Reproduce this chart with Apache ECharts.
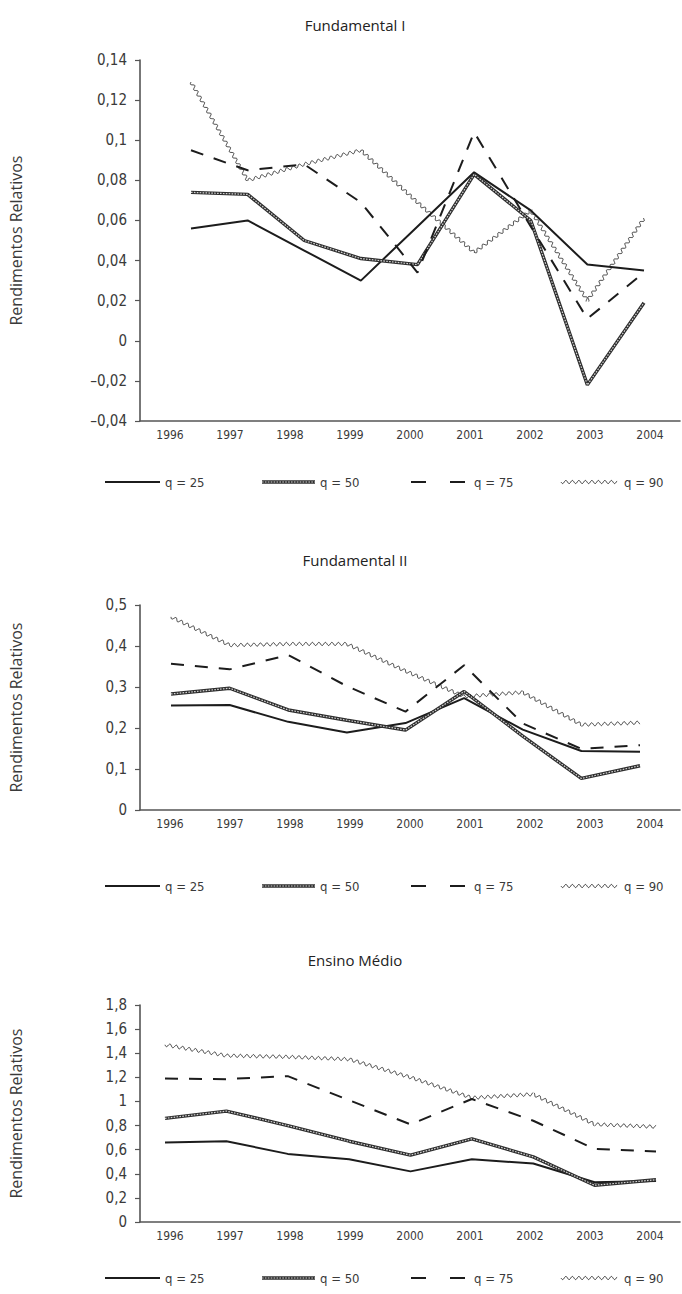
<!DOCTYPE html>
<html>
<head>
<meta charset="utf-8">
<script src="https://cdn.jsdelivr.net/npm/echarts@6/dist/echarts.min.js"></script>
<style>
  html, body { margin: 0; padding: 0; background: #ffffff; }
  #chart { width: 682px; height: 1294px; }
</style>
</head>
<body>
<div id="chart"></div>
<script>
// ---- data ----
const yearLabels = ['1996', '1997', '1998', '1999', '2000', '2001', '2002', '2003', '2004'];
const years = [1996, 1997, 1998, 1999, 2000, 2001, 2002, 2003, 2004];
const quantileNames = ['q = 25', 'q = 50', 'q = 75', 'q = 90'];
const panelTitles = ['Fundamental I', 'Fundamental II', 'Ensino Médio'];
const yAxisTitle = 'Rendimentos Relativos';

// Fundamental I
const fund1Q25 = [0.056, 0.060, 0.045, 0.030, 0.057, 0.084, 0.065, 0.038, 0.035];
const fund1Q50 = [0.074, 0.073, 0.050, 0.041, 0.038, 0.083, 0.060, -0.022, 0.019];
const fund1Q75 = [0.095, 0.085, 0.088, 0.069, 0.034, 0.104, 0.057, 0.011, 0.034];
const fund1Q90 = [0.129, 0.080, 0.088, 0.095, 0.069, 0.044, 0.065, 0.020, 0.061];

// Fundamental II
const fund2Q25 = [0.255, 0.256, 0.215, 0.189, 0.212, 0.273, 0.196, 0.144, 0.142];
const fund2Q50 = [0.283, 0.297, 0.244, 0.219, 0.195, 0.289, 0.180, 0.077, 0.108];
const fund2Q75 = [0.357, 0.343, 0.378, 0.302, 0.240, 0.353, 0.211, 0.149, 0.158];
const fund2Q90 = [0.471, 0.402, 0.405, 0.405, 0.339, 0.277, 0.287, 0.208, 0.213];

// Ensino Médio
const medioQ25 = [0.66, 0.67, 0.565, 0.52, 0.42, 0.52, 0.485, 0.33, 0.34];
const medioQ50 = [0.86, 0.92, 0.80, 0.67, 0.555, 0.69, 0.54, 0.305, 0.35];
const medioQ75 = [1.19, 1.185, 1.21, 1.01, 0.81, 1.02, 0.84, 0.606, 0.585];
const medioQ90 = [1.47, 1.38, 1.37, 1.35, 1.20, 1.03, 1.06, 0.81, 0.79];

const panelSeries = [
  [fund1Q25, fund1Q50, fund1Q75, fund1Q90],
  [fund2Q25, fund2Q50, fund2Q75, fund2Q90],
  [medioQ25, medioQ50, medioQ75, medioQ90]
];

// ---- layout ----
const W = 682;
const GRID_LEFT = 140;
const GRID_RIGHT = 2;
const panels = [
  { top: 60,   height: 361, min: -0.04, max: 0.14, interval: 0.02, firstX: 191, lastX: 644, titleTop: 17,  legendY: 482 },
  { top: 605,  height: 205, min: 0,     max: 0.5,  interval: 0.1,  firstX: 171, lastX: 640, titleTop: 552, legendY: 886 },
  { top: 1005, height: 217, min: 0,     max: 1.8,  interval: 0.2,  firstX: 165, lastX: 656, titleTop: 952, legendY: 1278 }
];

const INK = '#1c1c1c';
const AXIS = '#555555';
const TEXT = '#3a3a3a';
const CONDENSED = '"DejaVu Sans Condensed", "Liberation Sans Narrow", sans-serif';
const SANS = '"Open Sans", "Noto Sans", sans-serif';

const WAVE_AMP = 1.6;
const WAVE_LEN = 6.5;
const WAVE_STYLE = { stroke: '#2a2a2a', lineWidth: 0.9, fill: 'none' };
const BEAD_BASE = { color: '#2e2e2e', width: 3.4 };
const BEAD_HOLES = { color: '#d4d4d4', width: 1.2, dash: [1.6, 1.3] };

const fmt = v => String(+v.toFixed(4)).replace('.', ',').replace('-', '\u2013');
const pairs = vals => years.map((y, i) => [y, vals[i]]);

// wavy segment between two pixel points, phase continues from `offset`
function wavePoints(a, b, offset) {
  const dx = b[0] - a[0], dy = b[1] - a[1];
  const len = Math.hypot(dx, dy) || 1;
  const nx = -dy / len, ny = dx / len;
  const n = Math.max(2, Math.ceil(len / 0.5));
  const pts = [];
  for (let j = 0; j <= n; j++) {
    const t = j / n;
    const w = WAVE_AMP * Math.sin(2 * Math.PI * (offset + len * t) / WAVE_LEN);
    pts.push([a[0] + dx * t + nx * w, a[1] + dy * t + ny * w]);
  }
  return pts;
}

function renderWavy(params, api) {
  const i = params.dataIndex;
  if (i === 0) return null;
  let offset = 0;
  let prev = api.coord([api.value(0, 0), api.value(1, 0)]);
  for (let k = 1; k < i; k++) {
    const p = api.coord([api.value(0, k), api.value(1, k)]);
    offset += Math.hypot(p[0] - prev[0], p[1] - prev[1]);
    prev = p;
  }
  const cur = api.coord([api.value(0), api.value(1)]);
  return {
    type: 'polyline',
    shape: { points: wavePoints(prev, cur, offset) },
    style: WAVE_STYLE
  };
}

const option = {
  animation: false,
  backgroundColor: '#ffffff',
  title: [], grid: [], xAxis: [], yAxis: [], series: [], graphic: []
};

panels.forEach((p, pi) => {
  option.title.push({
    text: panelTitles[pi], left: 355, top: p.titleTop, textAlign: 'center', padding: 0,
    textStyle: { fontFamily: SANS, fontSize: 15, fontWeight: 'normal', color: '#222' }
  });
  option.grid.push({ left: GRID_LEFT, right: GRID_RIGHT, top: p.top, height: p.height });

  // visible category axis carrying the year labels
  option.xAxis.push({
    type: 'category', gridIndex: pi, data: yearLabels, boundaryGap: true, position: 'bottom',
    axisLine: { onZero: false, lineStyle: { color: AXIS, width: 1.6 } },
    axisTick: { show: false },
    axisLabel: { fontFamily: CONDENSED, fontSize: 12, color: TEXT, margin: 8 },
    splitLine: { show: false }
  });
  // numeric year axis used to place the lines
  const step = (p.lastX - p.firstX) / 8;
  option.xAxis.push({
    type: 'value', gridIndex: pi, show: false,
    min: years[0] - (p.firstX - GRID_LEFT) / step,
    max: years[0] + (W - GRID_RIGHT - p.firstX) / step,
    splitLine: { show: false }
  });

  option.yAxis.push({
    type: 'value', gridIndex: pi, min: p.min, max: p.max, interval: p.interval,
    name: yAxisTitle, nameLocation: 'middle', nameRotate: 90, nameGap: 116,
    nameTextStyle: { fontFamily: SANS, fontSize: 16, color: TEXT },
    axisLine: { show: true, onZero: false, lineStyle: { color: AXIS, width: 1.6 } },
    axisTick: { show: true, length: 5, lineStyle: { color: AXIS, width: 1.2 } },
    axisLabel: { fontFamily: CONDENSED, fontSize: 15, color: TEXT, margin: 13, formatter: fmt },
    splitLine: { show: false }
  });

  const [q25, q50, q75, q90] = panelSeries[pi];
  const xi = pi * 2 + 1;
  const common = { type: 'line', xAxisIndex: xi, yAxisIndex: pi, symbol: 'none', silent: true };
  option.series.push(
    Object.assign({}, common, { name: quantileNames[0], data: pairs(q25),
      lineStyle: { color: INK, width: 2 } }),
    Object.assign({}, common, { name: quantileNames[1], data: pairs(q50),
      lineStyle: { color: BEAD_BASE.color, width: BEAD_BASE.width } }),
    Object.assign({}, common, { name: quantileNames[1] + ' ', data: pairs(q50),
      lineStyle: { color: BEAD_HOLES.color, width: BEAD_HOLES.width, type: BEAD_HOLES.dash } }),
    Object.assign({}, common, { name: quantileNames[2], data: pairs(q75),
      lineStyle: { color: INK, width: 2, type: [13, 11] } }),
    { type: 'custom', name: quantileNames[3], xAxisIndex: xi, yAxisIndex: pi,
      data: pairs(q90), encode: { x: 0, y: 1 }, renderItem: renderWavy, silent: true }
  );

  // legend row
  const y = p.legendY;
  const label = (x, t) => ({ type: 'text', x: x, y: y, style: {
    text: t, fill: TEXT, font: '13px ' + CONDENSED, verticalAlign: 'middle', align: 'left' } });
  option.graphic.push(
    { type: 'line', shape: { x1: 105, y1: y, x2: 160, y2: y }, style: { stroke: INK, lineWidth: 2 } },
    label(165, quantileNames[0]),
    { type: 'line', shape: { x1: 262, y1: y, x2: 315, y2: y }, style: { stroke: BEAD_BASE.color, lineWidth: BEAD_BASE.width } },
    { type: 'line', shape: { x1: 262, y1: y, x2: 315, y2: y }, style: { stroke: BEAD_HOLES.color, lineWidth: BEAD_HOLES.width, lineDash: BEAD_HOLES.dash } },
    label(320, quantileNames[1]),
    { type: 'line', shape: { x1: 411, y1: y, x2: 426, y2: y }, style: { stroke: INK, lineWidth: 2 } },
    { type: 'line', shape: { x1: 450, y1: y, x2: 465, y2: y }, style: { stroke: INK, lineWidth: 2 } },
    label(474, quantileNames[2]),
    { type: 'polyline', shape: { points: wavePoints([561, y], [617, y], 0) }, style: WAVE_STYLE },
    label(624, quantileNames[3])
  );
});

const chart = echarts.init(document.getElementById('chart'), null, { renderer: 'svg' });
chart.setOption(option);
</script>
</body>
</html>
